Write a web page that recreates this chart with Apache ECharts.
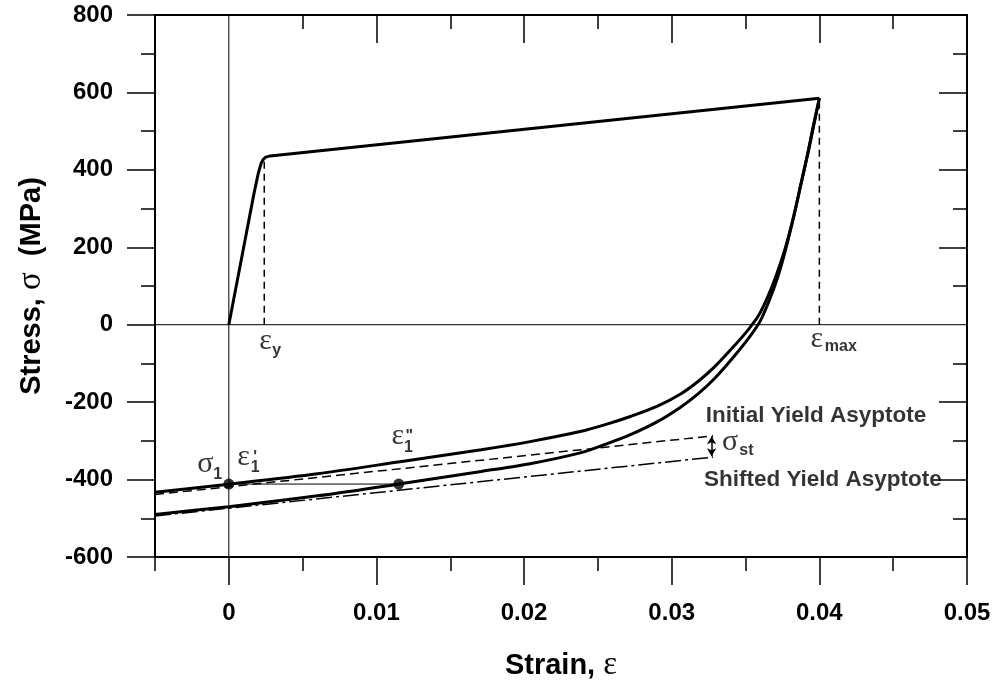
<!DOCTYPE html>
<html>
<head>
<meta charset="utf-8">
<script src="https://cdn.jsdelivr.net/npm/echarts@6/dist/echarts.min.js"></script>
<style>
html, body { margin: 0; padding: 0; background: #fff; }
#chart { width: 999px; height: 688px; }
</style>
</head>
<body>
<div id="chart"></div>
<script>
// axis ticks
const strainMajor = [0, 0.01, 0.02, 0.03, 0.04, 0.05];
const strainMinor = [-0.005, 0.005, 0.015, 0.025, 0.035, 0.045];
const stressMajor = [-600, -400, -200, 0, 200, 400, 600, 800];
const stressMinor = [-500, -300, -100, 100, 300, 500, 700];

// monotonic loading up to eps_max
const loadX = [0, 0.0017, 0.0020, 0.0022, 0.00235, 0.0025, 0.0028, 0.04];
const loadY = [0, 338, 392, 418, 428, 433, 436, 585];

// first unloading branch (upper)
const unloadAX = [-0.005, 0, 0.006, 0.0116, 0.0171, 0.0204, 0.0238, 0.0255, 0.0272, 0.0290, 0.0306, 0.0318, 0.0329, 0.0343, 0.0352, 0.0359, 0.0365, 0.0371, 0.0377, 0.0383, 0.0388, 0.0393, 0.0397, 0.04];
const unloadAY = [-433, -412, -385, -354, -323, -302, -276, -258, -237, -211, -179, -146, -109, -52, -12, 25, 72, 130, 199, 285, 371, 456, 530, 585];

// shifted unloading branch (lower)
const unloadBX = [-0.005, 0, 0.006, 0.01151, 0.0171, 0.0204, 0.0238, 0.0255, 0.0272, 0.0290, 0.0306, 0.0318, 0.0329, 0.0343, 0.0353, 0.0360, 0.0366, 0.0372, 0.0377, 0.0382, 0.0387, 0.0392, 0.0396, 0.04];
const unloadBY = [-490, -470, -442, -411.6, -379, -359, -331, -309, -284, -251, -213, -178, -139, -78, -30, 10, 62, 125, 192, 270, 355, 440, 515, 585];

// yield asymptotes
const initialAsymX = [-0.005, 0.0328];
const initialAsymY = [-438.6, -287];
const shiftedAsymX = [-0.005, 0.0328];
const shiftedAsymY = [-494, -342];

// reference strains
const epsY = 0.0024, sigY = 431;
const epsMax = 0.04, sigMax = 585;
const sigma1 = -411.6;
const eps1pp = 0.01151;
const stArrowX = 0.0327, stTop = -288, stBottom = -340;

// annotation texts [text, x, y]
const greekLabels = [['ε', 0.00248, -42], ['ε', 0.03983, -38], ['σ', -0.00159, -359], ['ε', 0.0010, -341], ['ε', 0.01145, -288], ['σ', 0.03396, -302]];
const subLabels = [['y', 0.00324, -66], ['max', 0.04145, -56], ['1', -0.00076, -388], ['1', 0.00178, -368], ['1', 0.01216, -318], ['st', 0.03506, -325]];
const primeLabels = [["'", 0.00178, -342], ['"', 0.01223, -288]];
const textLabels = [['Initial Yield Asyptote', 0.03231, -234], ['Shifted Yield Asyptote', 0.03218, -400]];

const SANS = 'Liberation Sans, Arial, sans-serif';
const SERIF = 'Liberation Serif, Times New Roman, serif';

function zip(xs, ys) {
    return xs.map((x, i) => [x, ys[i]]);
}

function lineSeries(data, width, type, smooth) {
    return {
        type: 'line', data: data, showSymbol: false, symbol: 'none', silent: true,
        smooth: smooth || false,
        lineStyle: { color: '#000', width: width, type: type || 'solid', cap: 'butt' }
    };
}

function labelSeries(items, style, align) {
    return {
        type: 'scatter', symbolSize: 0, silent: true, z: 10,
        data: items.map(d => ({ value: [d[1], d[2]], text: d[0] })),
        label: Object.assign({
            show: true, position: [0, 0], align: align, verticalAlign: 'middle',
            color: '#000', formatter: p => p.data.text
        }, style)
    };
}

function xAxisDef(pos, ticks, len, inside, showLine, showLabel) {
    return {
        type: 'value', position: pos, min: -0.005, max: 0.05,
        axisLine: { show: showLine, onZero: false, lineStyle: { color: '#000', width: 2 } },
        axisTick: { show: true, customValues: ticks, length: len, inside: inside, lineStyle: { color: '#000', width: 1.5 } },
        axisLabel: {
            show: showLabel, customValues: ticks, margin: 44,
            fontFamily: SANS, fontWeight: 'bold', fontSize: 24, color: '#000',
            formatter: v => v === 0 ? '0' : String(+v.toFixed(3))
        },
        splitLine: { show: false }
    };
}

function yAxisDef(pos, ticks, len, inside, showLine, showLabel) {
    return {
        type: 'value', position: pos, min: -600, max: 800,
        axisLine: { show: showLine, onZero: false, lineStyle: { color: '#000', width: 2 } },
        axisTick: { show: true, customValues: ticks, length: len, inside: inside, lineStyle: { color: '#000', width: 1.5 } },
        axisLabel: { show: showLabel, customValues: ticks, margin: 42, fontFamily: SANS, fontWeight: 'bold', fontSize: 24, color: '#000' },
        splitLine: { show: false }
    };
}

const chart = echarts.init(document.getElementById('chart'));

const titleRich = {
    b: { fontFamily: SANS, fontWeight: 'bold', fontSize: 29, color: '#000' },
    g: { fontFamily: SERIF, fontSize: 33, color: '#000' }
};

const xBottom = xAxisDef('bottom', strainMajor, 28, false, true, true);
xBottom.name = '{b|Strain, }{g|ε}';
xBottom.nameLocation = 'middle';
xBottom.nameGap = 92;
xBottom.nameTextStyle = { rich: titleRich };

const yLeft = yAxisDef('left', stressMajor, 28, false, true, true);
yLeft.name = '{b|Stress, }{g|σ}{b|  (MPa)}';
yLeft.nameLocation = 'middle';
yLeft.nameGap = 107;
yLeft.nameTextStyle = { rich: titleRich };

// inside ticks at zero are covered by the zero lines
const noZero = arr => arr.filter(v => v !== 0);

const zeroLine = (data) => Object.assign(lineSeries(data, 1), { clip: false, z: 20 });

const option = {
    backgroundColor: '#fff',
    animation: false,
    grid: { left: 155, top: 15, right: 32, bottom: 131, containLabel: false },
    xAxis: [
        xBottom,
        xAxisDef('bottom', strainMinor, 14, false, false, false),
        xAxisDef('top', noZero(strainMajor), 28, true, true, false),
        xAxisDef('top', strainMinor, 14, true, false, false)
    ],
    yAxis: [
        yLeft,
        yAxisDef('left', stressMinor, 14, false, false, false),
        yAxisDef('right', noZero(stressMajor), 28, true, true, false),
        yAxisDef('right', stressMinor, 14, true, false, false)
    ],
    series: [
        zeroLine([[0, -600], [0, 800]]),
        zeroLine([[-0.005, 0], [0.05, 0]]),
        lineSeries(zip(loadX, loadY), 3),
        lineSeries(zip(unloadAX, unloadAY), 3, 'solid', 0.3),
        lineSeries(zip(unloadBX, unloadBY), 3, 'solid', 0.3),
        lineSeries(zip(initialAsymX, initialAsymY), 1.5, [9, 5]),
        lineSeries(zip(shiftedAsymX, shiftedAsymY), 1.5, [16, 4, 3, 4]),
        lineSeries([[epsY, 0], [epsY, sigY]], 1.5, [7, 5]),
        lineSeries([[epsMax, 0], [epsMax, sigMax]], 1.5, [7, 5]),
        Object.assign(lineSeries([[0, sigma1], [eps1pp, sigma1]], 1), {
            markLine: {
                silent: true, symbol: ['arrow', 'arrow'], symbolSize: [7, 8], label: { show: false },
                lineStyle: { color: '#000', width: 1.5, type: 'solid' },
                data: [[{ coord: [stArrowX, stTop] }, { coord: [stArrowX, stBottom] }]]
            }
        }),
        {
            type: 'scatter', silent: true, symbolSize: 11, z: 5,
            itemStyle: { color: '#000' },
            data: [[0, sigma1], [eps1pp, sigma1]]
        },
        labelSeries(greekLabels, { fontFamily: SERIF, fontSize: 30 }, 'center'),
        labelSeries(subLabels, { fontFamily: SANS, fontWeight: 'bold', fontSize: 16 }, 'center'),
        labelSeries(primeLabels, { fontFamily: SANS, fontWeight: 'bold', fontSize: 16 }, 'center'),
        labelSeries(textLabels, { fontFamily: SANS, fontWeight: 'bold', fontSize: 22.5 }, 'left')
    ]
};

chart.setOption(option);
</script>
</body>
</html>
